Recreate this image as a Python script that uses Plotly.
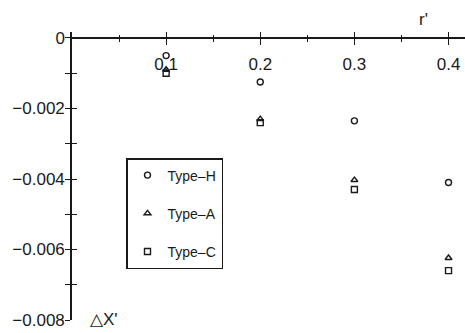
import plotly.graph_objects as go

# Reduced radius r' and the corresponding shift ΔX' for each type
r_prime = [0.1, 0.2, 0.3, 0.4]
dx_type_h = [-0.0005, -0.00125, -0.00235, -0.0041]
dx_type_a = [-0.0009, -0.0023, -0.00403, -0.00624]
dx_type_c = [-0.001, -0.0024, -0.0043, -0.0066]

x_tick_vals = [0.1, 0.2, 0.3, 0.4]
x_tick_text = ["0.1", "0.2", "0.3", "0.4"]
x_minor_vals = [0.05, 0.15, 0.25, 0.35]
y_tick_vals = [0, -0.002, -0.004, -0.006, -0.008]
y_tick_text = ["0", "\u22120.002", "\u22120.004", "\u22120.006", "\u22120.008"]
y_minor_vals = [-0.001, -0.003, -0.005, -0.007]

X_RANGE = [0, 0.4175]
Y_RANGE = [-0.008, 0.00017]
ZERO_POS = (0 - Y_RANGE[0]) / (Y_RANGE[1] - Y_RANGE[0])

FONT = "Liberation Sans, Arial, sans-serif"
INK = "#1a1a1a"

# name, values, marker symbol, axes.  Type-C is drawn on the second axis pair
# (x2 / y3), which spans the same area and scale and carries the inner halves
# of the crossing ticks.
series = [
    ("Type\u2013H", dx_type_h, "circle-open", "x", "y"),
    ("Type\u2013A", dx_type_a, "triangle-up-open", "x", "y"),
    ("Type\u2013C", dx_type_c, "square-open", "x2", "y3"),
]

fig = go.Figure()
for name, values, symbol, xa, ya in series:
    fig.add_trace(go.Scatter(
        x=r_prime, y=values, mode="markers", name=name,
        legendgroup=name, xaxis=xa, yaxis=ya,
        marker=dict(symbol=symbol, size=6, color=INK, line=dict(width=1.4, color=INK)),
    ))

common = dict(showgrid=False, zeroline=False, automargin=False,
              tickcolor=INK, tickwidth=1.2)

fig.update_layout(
    width=465, height=333, template="none",
    margin=dict(l=72, r=0, t=32, b=13),
    paper_bgcolor="white", plot_bgcolor="rgba(0,0,0,0)",
    font=dict(family=FONT, color=INK),
    showlegend=True,
    legend=dict(
        x=(126 - 72) / 393, y=(320 - 158) / 288, xanchor="left", yanchor="top",
        bordercolor=INK, borderwidth=1.5, bgcolor="white",
        font=dict(size=14, family=FONT, color=INK),
        tracegroupgap=17, traceorder="grouped",
    ),
    # lower halves of the x ticks and the labels, line through y = 0
    xaxis=dict(
        range=X_RANGE, domain=[0, 1], anchor="free", position=ZERO_POS,
        showline=True, linecolor=INK, linewidth=1.5,
        tickmode="array", tickvals=x_tick_vals, ticktext=x_tick_text,
        ticks="outside", ticklen=6, ticklabelstandoff=5,
        minor=dict(tickmode="array", tickvals=x_minor_vals,
                   ticks="outside", ticklen=3, tickcolor=INK, tickwidth=1),
        tickfont=dict(size=17, family=FONT, color=INK),
        **common,
    ),
    # left halves of the y ticks and the labels
    yaxis=dict(
        range=Y_RANGE, domain=[0, 1], anchor="x",
        showline=True, linecolor=INK, linewidth=1.5,
        tickmode="array", tickvals=y_tick_vals, ticktext=y_tick_text,
        ticks="outside", ticklen=5, ticklabelstandoff=-3,
        minor=dict(tickmode="array", tickvals=y_minor_vals,
                   ticks="outside", ticklen=5, tickcolor=INK, tickwidth=1),
        tickfont=dict(size=17, family=FONT, color=INK),
        **common,
    ),
    # upper halves of the x ticks, on the same y = 0 line
    xaxis2=dict(
        range=X_RANGE, domain=[0, 1], anchor="free", position=ZERO_POS,
        showline=False, showticklabels=False,
        tickmode="array", tickvals=x_tick_vals,
        ticks="inside", ticklen=6,
        minor=dict(tickmode="array", tickvals=x_minor_vals,
                   ticks="inside", ticklen=3, tickcolor=INK, tickwidth=1),
        **common,
    ),
    # right halves of the y ticks
    yaxis3=dict(
        range=Y_RANGE, domain=[0, 1], anchor="x2",
        showline=False, showticklabels=False,
        tickmode="array", tickvals=y_tick_vals,
        ticks="inside", ticklen=5,
        minor=dict(tickmode="array", tickvals=y_minor_vals,
                   ticks="inside", ticklen=5, tickcolor=INK, tickwidth=1),
        **common,
    ),
    annotations=[
        dict(text="r'", x=(423 - 72) / 393, y=(320 - 19) / 288,
             xref="paper", yref="paper", xanchor="center", yanchor="middle",
             showarrow=False, font=dict(size=17, family=FONT, color=INK)),
        dict(text="\u25b3X'", x=(88 - 72) / 393, y=(320 - 319) / 288,
             xref="paper", yref="paper", xanchor="left", yanchor="middle",
             showarrow=False, font=dict(size=17, family=FONT, color=INK)),
    ],
)

fig.write_html("out.html")
